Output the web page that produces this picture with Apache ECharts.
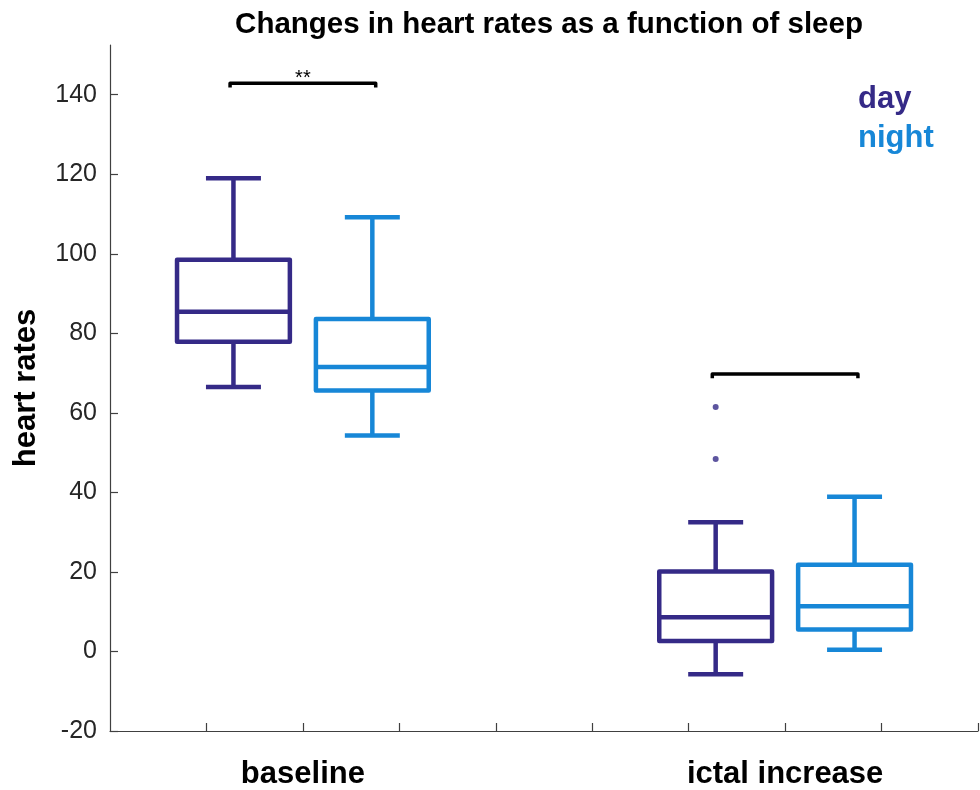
<!DOCTYPE html>
<html>
<head>
<meta charset="utf-8">
<script src="https://cdn.jsdelivr.net/npm/echarts@6/dist/echarts.min.js"></script>
<style>
  html, body { margin: 0; padding: 0; background: #fff; }
  #chart { width: 980px; height: 790px; }
</style>
</head>
<body>
<div id="chart"></div>
<script>
// ---- data ----
const groups = ['baseline', 'ictal increase'];
const groupPos = [2, 7];
const seriesNames = ['day', 'night'];
// [min, q1, median, q3, max] per group
const dayStats = [
  [66.5, 77.9, 85.4, 98.5, 119.0],
  [-5.7, 2.6, 8.6, 20.1, 32.5]
];
const nightStats = [
  [54.3, 65.6, 71.5, 83.6, 109.2],
  [0.4, 5.5, 11.4, 21.8, 38.9]
];
// outliers: [groupIndex, value]
const dayOutliers = [[1, 61.5], [1, 48.4]];
const nightOutliers = [];
// significance brackets: [groupIndex, height, label]
const brackets = [[0, 142.9, '**'], [1, 69.8, '']];
const yTicks = [-20, 0, 20, 40, 60, 80, 100, 120, 140];
const xTicks = [1, 2, 3, 4, 5, 6, 7, 8, 9];

// ---- styling ----
const DAY = '#352a87';
const NIGHT = '#1787d7';
const AXIS = '#404040';
const TXT = '#262626';
const FONT = '"Liberation Sans", Arial, Helvetica, sans-serif';
const OFFSET = 0.72;
const BOX_W = 1.17;
const CAP_W = 0.57;
const LW = 4.5;

function boxData(stats, sign) {
  return stats.map((s, i) => [groupPos[i] + sign * OFFSET].concat(s));
}

function renderBox(color) {
  return function (params, api) {
    const x = api.value(0);
    const pMin = api.coord([x, api.value(1)]);
    const pQ1 = api.coord([x, api.value(2)]);
    const pMed = api.coord([x, api.value(3)]);
    const pQ3 = api.coord([x, api.value(4)]);
    const pMax = api.coord([x, api.value(5)]);
    const cx = pMin[0];
    const half = api.size([BOX_W, 0])[0] / 2;
    const capHalf = api.size([CAP_W, 0])[0] / 2;
    const ls = { stroke: color, lineWidth: LW, fill: null, lineJoin: 'round' };
    return {
      type: 'group',
      children: [
        { type: 'line', shape: { x1: cx, y1: pQ3[1], x2: cx, y2: pMax[1] }, style: ls },
        { type: 'line', shape: { x1: cx, y1: pQ1[1], x2: cx, y2: pMin[1] }, style: ls },
        { type: 'line', shape: { x1: cx - capHalf, y1: pMax[1], x2: cx + capHalf, y2: pMax[1] }, style: ls },
        { type: 'line', shape: { x1: cx - capHalf, y1: pMin[1], x2: cx + capHalf, y2: pMin[1] }, style: ls },
        { type: 'rect', shape: { x: cx - half, y: pQ3[1], width: 2 * half, height: pQ1[1] - pQ3[1] }, style: ls },
        { type: 'line', shape: { x1: cx - half, y1: pMed[1], x2: cx + half, y2: pMed[1] }, style: ls }
      ]
    };
  };
}

function renderBracket(params, api) {
  const g = api.value(0);
  const h = api.value(1);
  const label = brackets[params.dataIndex][2];
  const xa = groupPos[g] - OFFSET - 0.035;
  const xb = groupPos[g] + OFFSET + 0.035;
  const p1 = api.coord([xa, h]);
  const p2 = api.coord([xb, h]);
  const drop = api.size([0, 1.1])[1];
  const children = [{
    type: 'polyline',
    shape: { points: [[p1[0], p1[1] + drop], [p1[0], p1[1]], [p2[0], p2[1]], [p2[0], p2[1] + drop]] },
    style: { stroke: '#000', lineWidth: 3.5, fill: null, lineJoin: 'round' }
  }];
  if (label) {
    children.push({
      type: 'text',
      style: {
        text: label, x: (p1[0] + p2[0]) / 2, y: p1[1] - 5,
        align: 'center', verticalAlign: 'middle',
        fill: '#000', font: '20px ' + FONT
      }
    });
  }
  return { type: 'group', children: children };
}

const chart = echarts.init(document.getElementById('chart'), null, { renderer: 'canvas' });
chart.setOption({
  backgroundColor: '#fff',
  animation: false,
  title: {
    text: 'Changes in heart rates as a function of sleep',
    left: 544, top: 5, textAlign: 'center',
    textStyle: { fontFamily: FONT, fontWeight: 'bold', fontSize: 29.5, color: '#000' }
  },
  grid: { left: 110, right: 2, top: 45, bottom: 55 },
  xAxis: {
    type: 'value', min: 0, max: 9, interval: 1,
    axisLine: { onZero: false, lineStyle: { color: AXIS, width: 1.2 } },
    axisTick: { inside: true, length: 8, customValues: xTicks, lineStyle: { color: AXIS, width: 1.2 } },
    axisLabel: {
      customValues: groupPos, margin: 28,
      formatter: v => groups[groupPos.indexOf(v)] || '',
      fontFamily: FONT, fontWeight: 'bold', fontSize: 31, color: '#000'
    },
    splitLine: { show: false }
  },
  yAxis: {
    type: 'value', min: -20, max: 152.5, interval: 20,
    name: 'heart rates', nameLocation: 'middle', nameGap: 68,
    nameTextStyle: { fontFamily: FONT, fontWeight: 'bold', fontSize: 31, color: '#000' },
    axisLine: { show: true, onZero: false, lineStyle: { color: AXIS, width: 1.2 } },
    axisTick: { show: true, inside: true, length: 8, customValues: yTicks, lineStyle: { color: AXIS, width: 1.2 } },
    axisLabel: { customValues: yTicks, margin: 13, fontFamily: FONT, fontSize: 25, color: TXT },
    splitLine: { show: false }
  },
  graphic: [
    { type: 'text', left: 858, top: 84, style: { text: seriesNames[0], fill: DAY, font: 'bold 31px ' + FONT } },
    { type: 'text', left: 858, top: 123, style: { text: seriesNames[1], fill: NIGHT, font: 'bold 31px ' + FONT } }
  ],
  series: [
    { name: seriesNames[0], type: 'custom', renderItem: renderBox(DAY), data: boxData(dayStats, -1), encode: { x: 0, y: [1, 2, 3, 4, 5] }, clip: false },
    { name: seriesNames[1], type: 'custom', renderItem: renderBox(NIGHT), data: boxData(nightStats, 1), encode: { x: 0, y: [1, 2, 3, 4, 5] }, clip: false },
    {
      name: 'day outliers', type: 'scatter', symbol: 'circle', symbolSize: 6,
      itemStyle: { color: DAY },
      data: dayOutliers.map(o => [groupPos[o[0]] - OFFSET, o[1]])
    },
    {
      name: 'night outliers', type: 'scatter', symbol: 'circle', symbolSize: 6,
      itemStyle: { color: NIGHT },
      data: nightOutliers.map(o => [groupPos[o[0]] + OFFSET, o[1]])
    },
    { name: 'significance', type: 'custom', renderItem: renderBracket, data: brackets.map(b => [b[0], b[1]]), encode: { x: 0, y: 1 }, clip: false }
  ]
});
</script>
</body>
</html>
